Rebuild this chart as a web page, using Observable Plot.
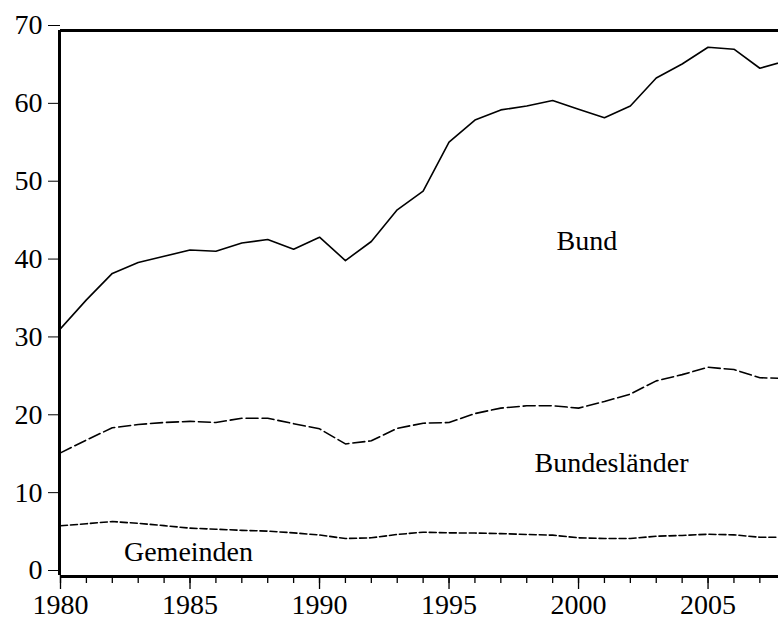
<!DOCTYPE html>
<html>
<head>
<meta charset="utf-8">
<script src="https://cdn.jsdelivr.net/npm/d3@7"></script>
<script src="https://cdn.jsdelivr.net/npm/@observablehq/plot@0.6"></script>
<style>
  html, body { margin: 0; padding: 0; background: #fff; overflow: hidden; }
  svg { display: block; }
</style>
</head>
<body>
<div id="chart"></div>
<script>
const years = [1980,1981,1982,1983,1984,1985,1986,1987,1988,1989,1990,1991,1992,1993,1994,1995,1996,1997,1998,1999,2000,2001,2002,2003,2004,2005,2006,2007,2008];
const bund = [31.7,35.4,38.8,40.2,41.0,41.8,41.65,42.7,43.15,41.9,43.45,40.45,42.9,46.97,49.36,55.65,58.5,59.8,60.3,61.0,59.9,58.8,60.3,63.9,65.7,67.85,67.6,65.15,66.1];
const laender = [15.75,17.4,18.97,19.4,19.65,19.8,19.65,20.2,20.2,19.5,18.84,16.9,17.3,18.9,19.56,19.65,20.8,21.5,21.8,21.8,21.5,22.35,23.3,25.0,25.8,26.75,26.45,25.4,25.3];
const gemeinden = [6.38,6.65,6.93,6.7,6.4,6.08,5.95,5.8,5.7,5.48,5.2,4.75,4.84,5.27,5.56,5.48,5.45,5.38,5.27,5.18,4.84,4.75,4.75,5.05,5.14,5.3,5.22,4.92,4.9];
const seriesNames = ["Bund", "Bundesländer", "Gemeinden"];
const labelYears = [1999.15, 1998.3, 1982.45];
const labelValues = [43.0, 14.5, 3.0];
const yTicks = [0,10,20,30,40,50,60,70];
const xMajor = [1980,1985,1990,1995,2000,2005];

const toRows = (vals) => years.map((y, i) => ({year: y, value: vals[i]}));
const labels = seriesNames.map((n, i) => ({name: n, year: labelYears[i], value: labelValues[i]}));

const font = "Liberation Serif";

const chart = Plot.plot({
  width: 778,
  height: 621,
  marginLeft: 60,
  marginRight: 0,
  marginTop: 30,
  marginBottom: 46,
  style: {fontFamily: font, fontSize: "28px", color: "#000", background: "#fff"},
  x: {domain: [1980, 2007.72]},
  y: {domain: [0, 70]},
  marks: [
    Plot.axisY({ticks: yTicks, tickSize: 12, tickPadding: 6, label: null, fontSize: 28, fontFamily: font, dy: -5, strokeWidth: 1}),
    Plot.axisX({ticks: years.filter(y => y <= 2007), tickSize: 8, tickFormat: () => "", label: null, strokeWidth: 1.3}),
    Plot.axisX({ticks: xMajor, tickSize: 14, tickPadding: 5, tickFormat: d => String(d), label: null, fontSize: 28, fontFamily: font, strokeWidth: 1.3}),
    Plot.line(toRows(bund), {x: "year", y: "value", stroke: "#000", strokeWidth: 1.6, clip: true}),
    Plot.line(toRows(laender), {x: "year", y: "value", stroke: "#000", strokeWidth: 1.6, strokeDasharray: "12,4", clip: true}),
    Plot.line(toRows(gemeinden), {x: "year", y: "value", stroke: "#000", strokeWidth: 1.6, strokeDasharray: "7,3", clip: true}),
    Plot.text(labels, {x: "year", y: "value", text: "name", textAnchor: "start", fontSize: 28, fontFamily: font, fill: "#000"}),
    Plot.ruleY([70], {stroke: "#000", strokeWidth: 3}),
    Plot.ruleY([0], {stroke: "#000", strokeWidth: 3, dy: 1}),
    Plot.ruleX([1980], {stroke: "#000", strokeWidth: 3, dx: -1})
  ]
});
document.getElementById("chart").appendChild(chart);
</script>
</body>
</html>
